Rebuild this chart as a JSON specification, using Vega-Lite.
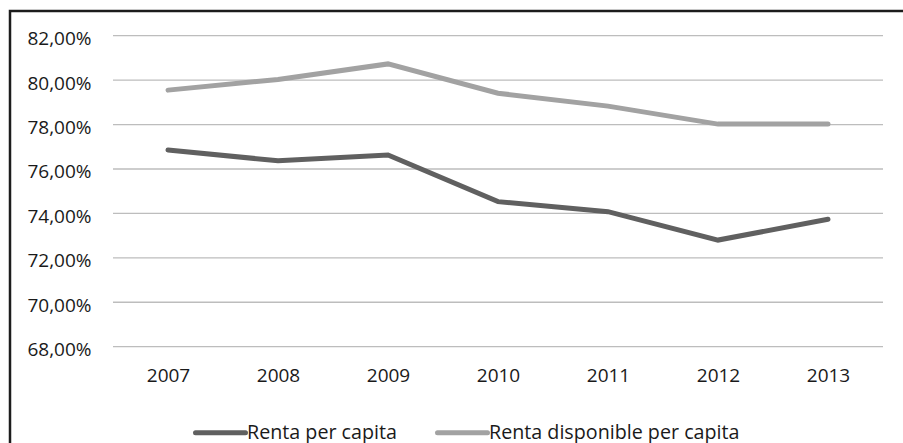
{
  "$schema": "https://vega.github.io/schema/vega-lite/v6.json",
  "autosize": {"type": "none"},
  "padding": {"left": 10, "top": 11, "right": 0, "bottom": 0},
  "width": 900,
  "height": 440,
  "background": "white",
  "config": {
    "locale": {"number": {"decimal": ",", "thousands": ".", "grouping": [3], "currency": ["", " €"]}},
    "view": {"stroke": "#1c1c1c", "strokeWidth": 2.5},
    "font": "Open Sans",
    "axis": {"labelFont": "Open Sans", "labelFontSize": 19, "labelColor": "#1a1a1a", "grid": false, "domain": false, "ticks": false},
    "legend": {"labelFont": "Open Sans", "labelFontSize": 19.7, "labelColor": "#1a1a1a"}
  },
  "layer": [
    {
      "data": {"values": [
        {"grid": 0.68}, {"grid": 0.70}, {"grid": 0.72}, {"grid": 0.74},
        {"grid": 0.76}, {"grid": 0.78}, {"grid": 0.80}, {"grid": 0.82}
      ]},
      "mark": {"type": "rule", "color": "#bdbdbd", "strokeWidth": 1.3},
      "encoding": {
        "y": {"field": "grid", "type": "quantitative"},
        "x": {"datum": 2006.5, "type": "quantitative"},
        "x2": {"datum": 2013.5}
      }
    },
    {
      "data": {"values": [
        {"year": 2007, "serie": "Renta per capita", "value": 0.7685},
        {"year": 2008, "serie": "Renta per capita", "value": 0.7637},
        {"year": 2009, "serie": "Renta per capita", "value": 0.7663},
        {"year": 2010, "serie": "Renta per capita", "value": 0.7453},
        {"year": 2011, "serie": "Renta per capita", "value": 0.7408},
        {"year": 2012, "serie": "Renta per capita", "value": 0.7280},
        {"year": 2013, "serie": "Renta per capita", "value": 0.7374},
        {"year": 2007, "serie": "Renta disponible per capita", "value": 0.7955},
        {"year": 2008, "serie": "Renta disponible per capita", "value": 0.8003},
        {"year": 2009, "serie": "Renta disponible per capita", "value": 0.8073},
        {"year": 2010, "serie": "Renta disponible per capita", "value": 0.7941},
        {"year": 2011, "serie": "Renta disponible per capita", "value": 0.7883},
        {"year": 2012, "serie": "Renta disponible per capita", "value": 0.7802},
        {"year": 2013, "serie": "Renta disponible per capita", "value": 0.7802}
      ]},
      "mark": {"type": "line", "strokeWidth": 5, "strokeCap": "round", "strokeJoin": "miter"},
      "encoding": {
        "x": {
          "field": "year", "type": "quantitative",
          "scale": {"domain": [2006.5, 2013.5], "range": [103, 873], "nice": false, "zero": false},
          "axis": {"orient": "bottom", "title": null, "values": [2007, 2008, 2009, 2010, 2011, 2012, 2013], "format": "d", "labelPadding": 0, "labelBaseline": "top", "offset": -85}
        },
        "y": {
          "field": "value", "type": "quantitative",
          "scale": {"domain": [0.68, 0.82], "range": [335.7, 24.7], "nice": false, "zero": false},
          "axis": {"orient": "left", "title": null, "values": [0.68, 0.70, 0.72, 0.74, 0.76, 0.78, 0.80, 0.82], "format": ".2%", "labelPadding": 0, "offset": -81, "labelOffset": 3}
        },
        "color": {
          "field": "serie", "type": "nominal",
          "scale": {"domain": ["Renta per capita", "Renta disponible per capita"], "range": ["#606060", "#a2a2a2"]},
          "legend": {
            "title": null, "orient": "none", "direction": "horizontal",
            "legendX": 183, "legendY": 394,
            "symbolType": "stroke", "symbolSize": 2500, "symbolStrokeWidth": 5,
            "labelOffset": -1, "columnPadding": 30, "labelLimit": 0,
            "encode": {"symbols": {"update": {"strokeWidth": {"value": 5}, "strokeCap": {"value": "round"}}}}
          }
        }
      }
    }
  ]
}
